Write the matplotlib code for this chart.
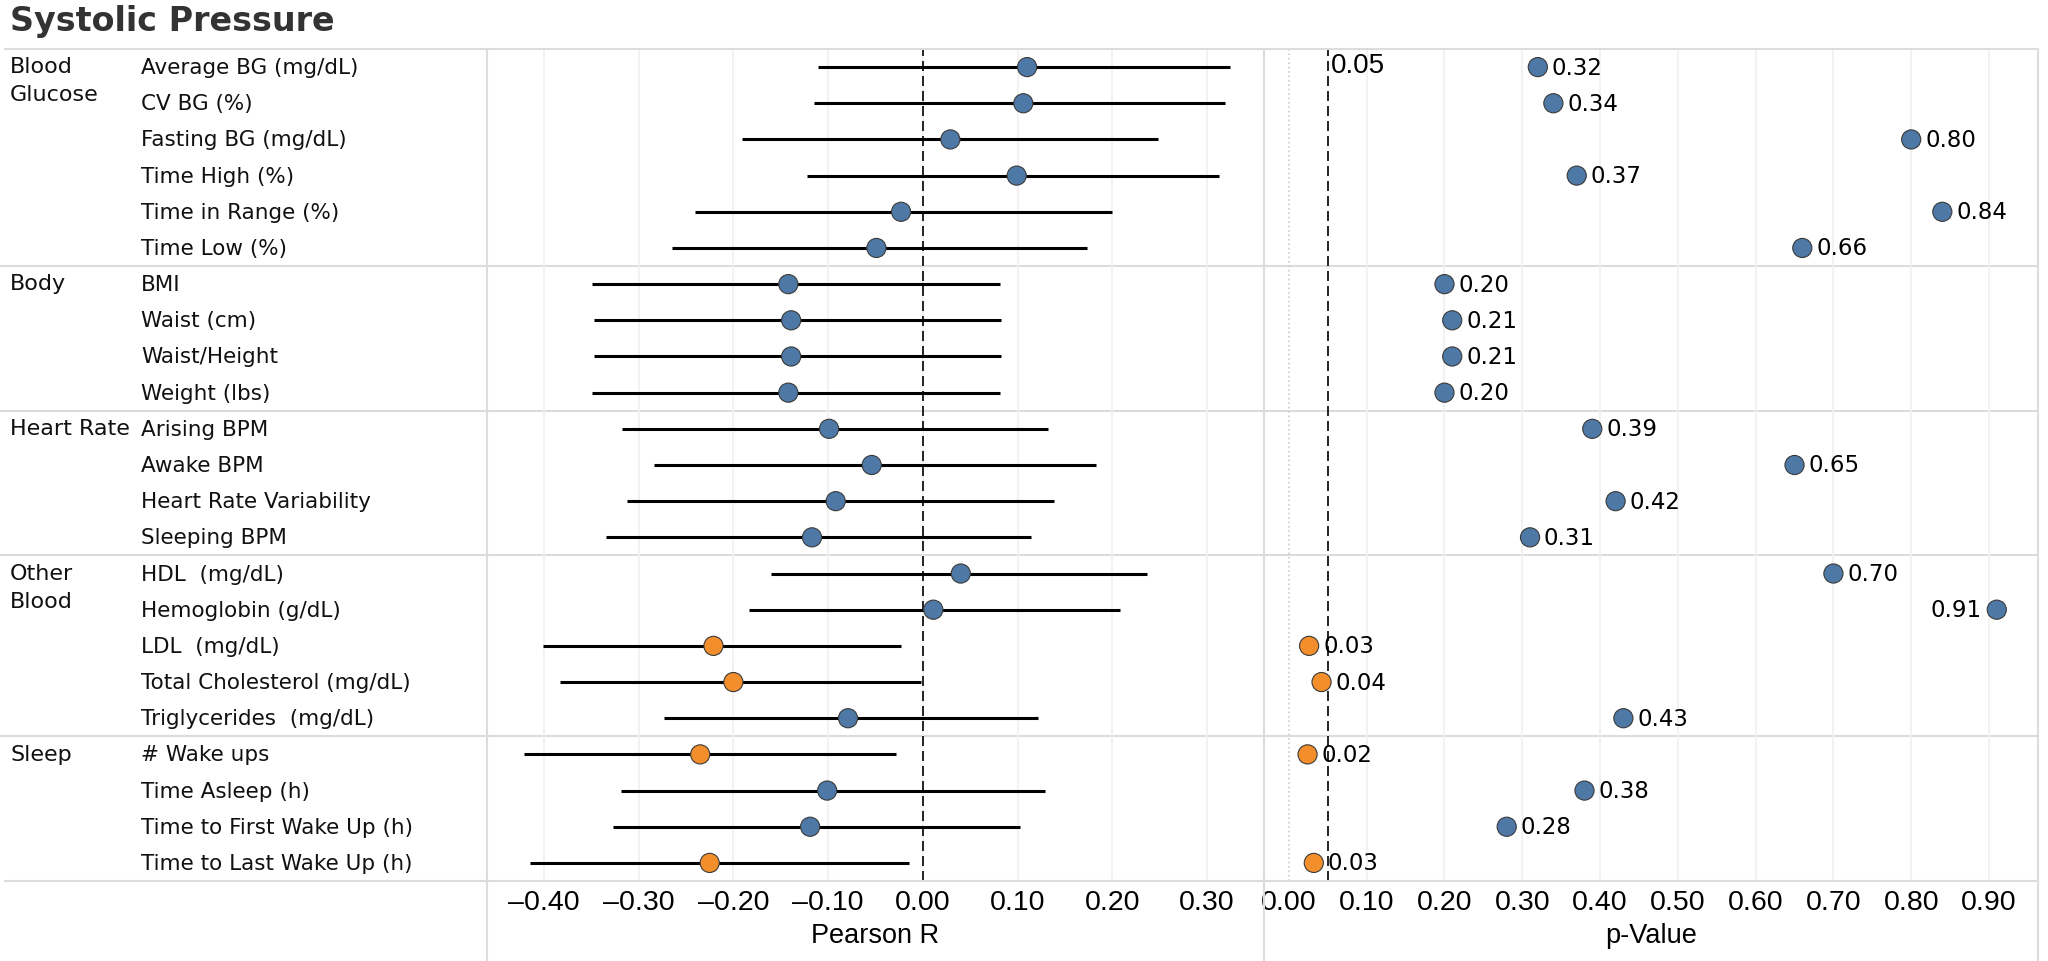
import os
import matplotlib
matplotlib.use("Agg")
import matplotlib.pyplot as plt
from matplotlib import font_manager as fm
from matplotlib.lines import Line2D
import numpy as np

plt.rcParams['font.family'] = ['DejaVu Sans']

# data
groups = ["Blood\nGlucose", "Body", "Heart Rate", "Other\nBlood", "Sleep"]
group_sizes = [6, 4, 4, 5, 4]
measures = ["Average BG (mg/dL)", "CV BG (%)", "Fasting BG (mg/dL)", "Time High (%)",
            "Time in Range (%)", "Time Low (%)",
            "BMI", "Waist (cm)", "Waist/Height", "Weight (lbs)",
            "Arising BPM", "Awake BPM", "Heart Rate Variability", "Sleeping BPM",
            "HDL  (mg/dL)", "Hemoglobin (g/dL)", "LDL  (mg/dL)",
            "Total Cholesterol (mg/dL)", "Triglycerides  (mg/dL)",
            "# Wake ups", "Time Asleep (h)", "Time to First Wake Up (h)",
            "Time to Last Wake Up (h)"]
pearson_r = [0.110, 0.106, 0.029, 0.099, -0.023, -0.049,
             -0.142, -0.139, -0.139, -0.142,
             -0.099, -0.054, -0.092, -0.117,
             0.040, 0.011, -0.221, -0.200, -0.079,
             -0.235, -0.101, -0.119, -0.225]
ci_low = [-0.111, -0.115, -0.191, -0.122, -0.240, -0.265,
          -0.349, -0.347, -0.347, -0.349,
          -0.318, -0.284, -0.312, -0.334,
          -0.160, -0.184, -0.401, -0.383, -0.273,
          -0.421, -0.319, -0.327, -0.415]
ci_high = [0.324, 0.319, 0.248, 0.313, 0.200, 0.173,
           0.081, 0.082, 0.082, 0.081,
           0.132, 0.183, 0.138, 0.114,
           0.237, 0.208, -0.023, -0.002, 0.121,
           -0.028, 0.129, 0.102, -0.015]
p_values = [0.32, 0.34, 0.80, 0.37, 0.84, 0.66,
            0.20, 0.21, 0.21, 0.20,
            0.39, 0.65, 0.42, 0.31,
            0.70, 0.91, 0.026, 0.042, 0.43,
            0.024, 0.38, 0.28, 0.032]
alpha = 0.05
r_ticks = [-0.4, -0.3, -0.2, -0.1, 0.0, 0.1, 0.2, 0.3]
p_ticks = [0.0, 0.1, 0.2, 0.3, 0.4, 0.5, 0.6, 0.7, 0.8, 0.9]

BLUE = '#4e79a7'
ORANGE = '#f28e2b'
GRID = '#f0f0f0'
BORDER = '#dcdcdc'

W, H = 2048, 962
TOP, BOT = 50, 882
X_LAB, X_MID, X_END = 487, 1264, 2038

# axis texts are in a narrow face in the original; use one if installed
names = {f.name for f in fm.fontManager.ttflist}
if 'Liberation Sans Narrow' in names:
    AX_FONT, tick_size, title_size = 'Liberation Sans Narrow', 23, 21
else:
    AX_FONT, tick_size, title_size = 'Liberation Sans', 20.5, 19.5


def box(x0, y0, x1, y1):
    return [x0 / W, 1 - y1 / H, (x1 - x0) / W, (y1 - y0) / H]


n = len(measures)
y = np.arange(n)
colors = [ORANGE if p < alpha else BLUE for p in p_values]
bounds = np.cumsum(group_sizes)[:-1] - 0.5
starts = np.concatenate([[0], np.cumsum(group_sizes)[:-1]])

fig = plt.figure(figsize=(W / 100, H / 100), dpi=100)
fig.text(10 / W, 1 - 22 / H, "Systolic Pressure", fontsize=24, fontweight='bold',
         color='#333333', va='center', ha='left')

ax_lab = fig.add_axes(box(0, TOP, X_LAB, BOT))
ax_r = fig.add_axes(box(X_LAB, TOP, X_MID, BOT))
ax_p = fig.add_axes(box(X_MID, TOP, X_END, BOT))

for ax in (ax_lab, ax_r, ax_p):
    ax.set_ylim(n - 0.5, -0.5)
    ax.set_yticks([])
    for s in ax.spines.values():
        s.set_visible(False)
    for b in bounds:
        ax.axhline(b, color=BORDER, lw=1.5, zorder=0)

ax_lab.set_xlim(0, X_LAB)
ax_lab.set_xticks([])
for g, s in zip(groups, starts):
    ax_lab.text(10, s - 0.5 + 0.2, g, fontsize=16, va='top', ha='left',
                linespacing=1.5, color='#111111')
for i, m in enumerate(measures):
    ax_lab.text(141, i, m, fontsize=15.5, va='center', ha='left', color='#111111')

# Pearson R panel
ax_r.set_xlim(-0.46, 0.36)
ax_r.hlines(y, ci_low, ci_high, color='black', lw=2.2, zorder=2)
ax_r.scatter(pearson_r, y, s=190, c=colors, edgecolors='#3a3a3a', linewidths=0.8, zorder=3)
ax_r.axvline(0, color='black', lw=1.2, ls=(0, (6, 3)), zorder=2.5)

# p-value panel
ax_p.set_xlim(-0.032, 0.963)
ax_p.scatter(p_values, y, s=190, c=colors, edgecolors='#3a3a3a', linewidths=0.8, zorder=3)
ax_p.axvline(alpha, color='black', lw=1.2, ls=(0, (6, 3)), zorder=2.5)
ax_p.text(alpha + 0.004, -0.05, f"{alpha:.2f}", family=AX_FONT,
          fontsize=tick_size - 0.5, va='center', ha='left')
for i, p in enumerate(p_values):
    if p > 0.88:
        ax_p.annotate(f"{p:.2f}", (p, i), xytext=(-11, 0), textcoords='offset points',
                      fontsize=16.5, va='center', ha='right')
    else:
        ax_p.annotate(f"{p:.2f}", (p, i), xytext=(10, 0), textcoords='offset points',
                      fontsize=16.5, va='center', ha='left')

for ax, ticks, lab in ((ax_r, r_ticks, "Pearson R"), (ax_p, p_ticks, "p-Value")):
    ax.set_xticks(ticks)
    ax.set_xticklabels([f"{t:.2f}".replace('-', '\u2013') for t in ticks],
                       family=AX_FONT, fontsize=tick_size)
    ax.tick_params(axis='x', length=0, pad=6)
    ax.grid(axis='x', color=GRID, lw=1.2, zorder=0)
    ax.set_axisbelow(True)
    ax.set_xlabel(lab, family=AX_FONT, fontsize=title_size, labelpad=5)

ax_p.get_xgridlines()[0].set_linestyle(':')
ax_p.get_xgridlines()[0].set_color('#cccccc')

# frame lines
for yy in (TOP, BOT):
    fig.add_artist(Line2D([5 / W, X_END / W], [1 - yy / H, 1 - yy / H],
                          color=BORDER, lw=1.5, transform=fig.transFigure))
for xx in (X_LAB, X_MID, X_END):
    fig.add_artist(Line2D([xx / W, xx / W], [1 - TOP / H, 0],
                          color=BORDER, lw=1.5, transform=fig.transFigure))

fig.savefig("out.png", dpi=100, facecolor='white')
